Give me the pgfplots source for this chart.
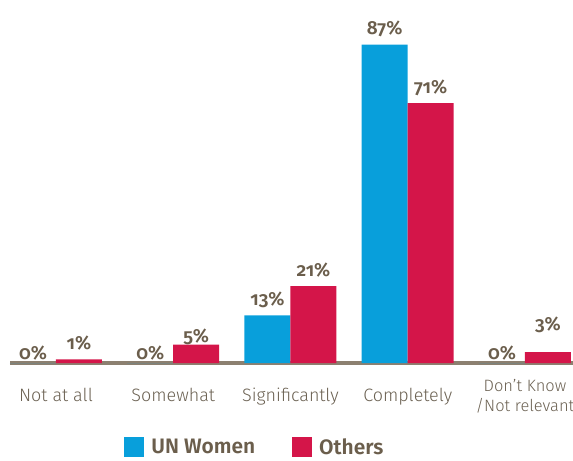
\documentclass[border=0pt]{standalone}
\usepackage{fontspec}
\setmainfont{Fira Sans}[UprightFont=* Light, BoldFont=* SemiBold, Numbers=OldStyle]
\usepackage{pgfplots}
\pgfplotsset{compat=1.18}
\definecolor{unblue}{HTML}{089FDB}
\definecolor{othred}{HTML}{D41549}
\definecolor{axline}{HTML}{8C8070}
\definecolor{labcol}{HTML}{6B6152}
\definecolor{valcol}{HTML}{6B5E4C}

\begin{document}
\begin{tikzpicture}
\useasboundingbox (0,0) rectangle (573bp,461bp);
\begin{axis}[
    at={(10bp,98bp)}, anchor=south west,
    x=117.25bp, y=3.66bp,
    xmin=-0.392, xmax=4.41,
    ymin=0, ymax=95,
    ybar=0pt,
    bar width=46bp,
    axis x line*=bottom,
    axis y line=none,
    x axis line style={line width=3bp, draw=axline},
    xtick={0,1,2,3,4},
    xticklabels={Not at all, Somewhat, Significantly, Completely,
        {\raisebox{10bp}{\fontsize{16.5}{21}\selectfont\begin{tabular}[t]{@{}c@{}}Don’t Know\\/Not relevant\end{tabular}}}},
    major tick length=0pt,
    xticklabel style={font=\fontsize{18}{21}\selectfont, text=labcol, anchor=base, yshift=-38bp},
    point meta=explicit symbolic,
    nodes near coords,
    every node near coord/.append style={font=\fontsize{19}{22}\selectfont\bfseries,
        text=valcol, anchor=base, yshift=10bp},
    legend columns=2,
    legend style={draw=none, fill=none, at={(axis description cs:0.435,-0.243)},
        anchor=center, font=\fontsize{21}{24}\selectfont\bfseries, text=valcol,
        nodes={inner ysep=0pt},
        /tikz/every odd column/.append style={column sep=5bp},
        /tikz/every even column/.append style={column sep=35bp}},
    legend image code/.code={\fill[#1] (0bp,-10bp) rectangle (20bp,10bp);},
    clip=false,
]
\addplot[fill=unblue, draw=none] coordinates {
    (0,0) [\raisebox{-6bp}{0\%}]
    (1,0) [\raisebox{-6bp}{0\%}]
    (2,13) [13\%]
    (3,87) [87\%]
    (4,0) [\raisebox{-6bp}{0\%}]
};
\addplot[fill=othred, draw=none] coordinates {
    (0,1) [1\%]
    (1,5) [\raisebox{-8bp}{5\%}]
    (2,21) [21\%]
    (3,71) [71\%]
    (4,3) [\raisebox{12bp}{3\%}]
};
\legend{UN Women, Others}
\end{axis}
\end{tikzpicture}
\end{document}
